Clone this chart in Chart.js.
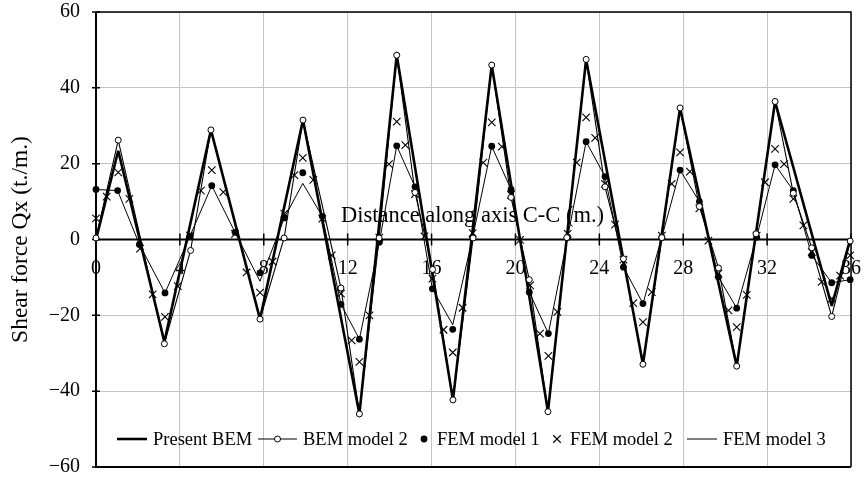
<!DOCTYPE html>
<html>
<head>
<meta charset="utf-8">
<script src="https://cdn.jsdelivr.net/npm/chart.js@4.4.1/dist/chart.umd.min.js"></script>
<style>
  body { margin: 0; background: #fff; }
  canvas { display: block; }
</style>
</head>
<body>
<canvas id="c" width="864" height="479"></canvas>
<script>
    'use strict';

    // tick values of both axes
    const xTickValues = [0, 4, 8, 12, 16, 20, 24, 28, 32, 36]
    const yTickValues = [-60, -40, -20, 0, 20, 40, 60]

    // Present BEM (thick line)
    const presentBemX = [0, 1.06, 3.26, 5.48, 7.82, 9.87, 12.56, 14.34, 17.02, 18.87, 21.55, 23.37, 26.08, 27.85, 30.55, 32.38, 35.08, 35.96]
    const presentBemY = [0, 23.4, -27, 28.9, -21, 31.5, -46, 48.6, -42.3, 46, -45.4, 47.5, -32.9, 34.7, -33.4, 36.4, -17.5, 0]

    // BEM model 2 (line with open circles)
    const bem2X = [0, 1.06, 3.26, 4.51, 5.48, 7.82, 8.97, 9.87, 11.68, 12.56, 13.5, 14.34, 15.21, 16.05, 17.02, 17.98, 18.87, 19.79,
        20.66, 21.55, 22.45, 23.37, 24.27, 25.15, 26.08, 26.98, 27.85, 28.77, 29.68, 30.55, 31.47, 32.38, 33.25, 34.13, 35.08, 35.96]
    const bem2Y = [0.4, 26.2, -27.5, -2.9, 28.9, -21, 0.4, 31.5, -12.8, -46, 0.4, 48.6, 12.4, -7.9, -42.3, 0.4, 46, 11.1,
        -10.6, -45.4, 0.5, 47.5, 13.9, -5.1, -32.9, 0.5, 34.7, 8.7, -7.5, -33.4, 1.5, 36.4, 12.2, -2.2, -20.3, -0.4]

    // FEM model 1 (filled dots) - FEM model 3 uses the same nodes
    const femNodesX = [0, 1.03, 2.07, 3.29, 4.48, 5.52, 6.63, 7.82, 8.98, 9.86, 10.79, 11.68, 12.56, 13.51, 14.34, 15.21, 16.04, 17.01, 17.96,
        18.87, 19.79, 20.66, 21.57, 22.49, 23.37, 24.27, 25.15, 26.08, 26.98, 27.85, 28.77, 29.68, 30.55, 31.5, 32.38, 33.25, 34.13, 35.08, 35.96]
    const fem1Y = [13.2, 12.9, -1.3, -14.1, 0.9, 14.2, 1.9, -8.8, 5.7, 17.6, 6.1, -17.1, -26.3, -0.7, 24.7, 13.9, -13, -23.7, 0.6,
        24.6, 13.2, -13.9, -24.8, 0.6, 25.8, 16.6, -7.3, -16.9, 0.6, 18.3, 10, -9.9, -18.1, 0.6, 19.7, 12.9, -4.2, -11.4, -10.6]
    const fem3Y = [13.2, 12.9, -1.3, -14.1, 0.9, 14.2, 1.9, -11, 5.7, 14.8, 6.1, -17.1, -26.3, -0.7, 24.7, 13.9, -13, -22.5, 0.6,
        24.6, 13.2, -13.9, -24.8, 0.6, 25.8, 16.6, -7.3, -16.9, 0.6, 18.3, 10, -9.9, -18.1, 0.6, 19.7, 12.9, -4.2, -11.4, -10.6]

    // FEM model 2 (crosses)
    const fem2X = [0, 0.51, 1.06, 1.59, 2.1, 2.7, 3.29, 3.9, 4.48, 5.0, 5.52, 6.07, 6.63, 7.18, 7.82, 8.42, 8.98, 9.46, 9.86, 10.36,
        10.79, 11.24, 11.68, 12.19, 12.56, 13.04, 13.51, 13.97, 14.34, 14.75, 15.21, 15.66, 16.04, 16.57, 17.01, 17.48, 17.96, 18.47, 18.87, 19.35,
        19.79, 20.22, 20.7, 21.17, 21.57, 22.0, 22.49, 22.92, 23.37, 23.8, 24.27, 24.75, 25.15, 25.62, 26.08, 26.5, 26.98, 27.45, 27.85, 28.32,
        28.77, 29.2, 29.68, 30.16, 30.55, 31.03, 31.5, 31.9, 32.38, 32.81, 33.25, 33.73, 34.13, 34.6, 35.08, 35.48, 35.96]
    const fem2Y = [5.6, 11.3, 17.7, 10.7, -2.4, -14.5, -20.4, -12.3, 1, 12.9, 18.3, 12.5, 1.5, -8.7, -14, -5.8, 6.8, 17, 21.5, 15.7,
        5.5, -4.2, -14.3, -26.6, -32.3, -20, 0.5, 19.9, 31.1, 24.9, 12, 0.8, -10.3, -23.8, -29.8, -18, 1.7, 20.3, 30.9, 24.5,
        11.8, -0.1, -12.1, -24.8, -30.7, -19.1, 1.5, 20.3, 32.2, 26.8, 14.7, 3.9, -5.3, -16.8, -21.8, -13.9, 1, 14.7, 23, 17.9,
        8.2, -0.3, -9, -18.7, -23.1, -14.6, 1, 15.1, 23.9, 19.9, 10.7, 3.7, -3.3, -11.2, -15.6, -9.5, -4.2]

    const xTitle = 'Distance along axis C-C (m.)'
    const yTitle = 'Shear force Qx (t./m.)'

    const serif = '"Liberation Serif", "Times New Roman", serif'
    const gridGrey = '#c4c4c4'

    function pts(xs, ys) {
        return xs.map((x, i) => ({ x: x, y: ys[i] }))
    }

    let datasets = [
        {
            label: 'Present BEM', data: pts(presentBemX, presentBemY), showLine: true,
            borderColor: '#000', borderWidth: 2.6, borderJoinStyle: 'bevel', pointRadius: 0, order: 3
        },
        {
            label: 'BEM model 2', data: pts(bem2X, bem2Y), showLine: true,
            borderColor: '#000', borderWidth: 1.1, pointStyle: 'circle', pointRadius: 3,
            pointBackgroundColor: '#fff', pointBorderColor: '#000', pointBorderWidth: 1, order: 0
        },
        {
            label: 'FEM model 1', data: pts(femNodesX, fem1Y), showLine: false,
            pointStyle: 'circle', pointRadius: 3.4, pointBackgroundColor: '#000', pointBorderColor: '#000',
            pointBorderWidth: 0, order: 1
        },
        {
            label: 'FEM model 2', data: pts(fem2X, fem2Y), showLine: false,
            pointStyle: 'crossRot', pointRadius: 5.3, pointBorderColor: '#000', pointBorderWidth: 1.1, order: 2
        },
        {
            label: 'FEM model 3', data: pts(femNodesX, fem3Y), showLine: true,
            borderColor: '#000', borderWidth: 1, pointRadius: 0, order: 4
        }
    ]
    datasets.forEach(d => { d.clip = false; d.tension = 0 })

    // frame, zero line with tick marks, x title and legend
    const decor = {
        id: 'decor',
        beforeDatasetsDraw(chart) {
            let { ctx, chartArea: a, scales } = chart
            let x = scales.x, y = scales.y
            let y0 = y.getPixelForValue(0)
            ctx.save()
            ctx.strokeStyle = '#000'
            ctx.lineWidth = 1.5
            ctx.beginPath()
            ctx.moveTo(a.left, a.top); ctx.lineTo(a.right, a.top); ctx.lineTo(a.right, a.bottom)
            ctx.stroke()
            ctx.lineWidth = 2
            ctx.beginPath()
            ctx.moveTo(a.left, a.top); ctx.lineTo(a.left, a.bottom); ctx.lineTo(a.right, a.bottom)
            ctx.moveTo(a.left, y0); ctx.lineTo(a.right, y0)
            ctx.stroke()
            ctx.lineWidth = 1.5
            ctx.beginPath()
            xTickValues.forEach(v => {
                let px = x.getPixelForValue(v)
                ctx.moveTo(px, y0 - 6); ctx.lineTo(px, y0 + 6)
            })
            yTickValues.forEach(v => {
                let py = y.getPixelForValue(v)
                ctx.moveTo(a.left - 4, py); ctx.lineTo(a.left + 4, py)
            })
            ctx.stroke()
            ctx.restore()
        },
        afterDatasetsDraw(chart) {
            let { ctx, chartArea: a } = chart
            ctx.save()
            ctx.fillStyle = '#000'
            ctx.font = '22.5px ' + serif
            ctx.textAlign = 'center'
            ctx.textBaseline = 'alphabetic'
            ctx.fillText(xTitle, (a.left + a.right) / 2 - 1, a.top + 209.5)

            // legend row along the bottom of the plot
            let ly = a.bottom - 28
            let items = [
                { ds: 0, kind: 'line', sx: 117, sw: 30, tx: 153 },
                { ds: 1, kind: 'lineMarker', sx: 258, sw: 39, tx: 303 },
                { ds: 2, kind: 'marker', sx: 424, tx: 437 },
                { ds: 3, kind: 'marker', sx: 557, tx: 570 },
                { ds: 4, kind: 'line', sx: 687, sw: 30, tx: 723 }
            ]
            ctx.font = '18.5px ' + serif
            ctx.textAlign = 'left'
            ctx.textBaseline = 'middle'
            items.forEach(it => {
                let d = chart.data.datasets[it.ds]
                if (it.kind !== 'marker') {
                    ctx.strokeStyle = '#000'
                    ctx.lineWidth = d.borderWidth
                    ctx.beginPath()
                    ctx.moveTo(it.sx, ly); ctx.lineTo(it.sx + it.sw, ly)
                    ctx.stroke()
                }
                if (it.kind !== 'line') {
                    let cx = it.kind === 'marker' ? it.sx : it.sx + it.sw / 2
                    ctx.fillStyle = d.pointBackgroundColor || '#000'
                    ctx.strokeStyle = d.pointBorderColor || '#000'
                    ctx.lineWidth = d.pointBorderWidth
                    Chart.helpers.drawPoint(ctx, {
                        pointStyle: d.pointStyle, radius: d.pointRadius, rotation: 0,
                        borderWidth: d.pointBorderWidth
                    }, cx, ly)
                }
                ctx.fillStyle = '#000'
                ctx.fillText(d.label, it.tx, ly + 1)
            })
            ctx.restore()
        }
    }

    // tick label gaps are done with invisible tick marks (tick padding would also pad the plot box)
    let ctx = document.getElementById('c').getContext('2d')
    let chart = new Chart(ctx, {
        type: 'scatter',
        data: { datasets: datasets },
        options: {
            responsive: false,
            animation: false,
            devicePixelRatio: 1,
            layout: { padding: { left: 0, right: 13, top: 12, bottom: 12 } },
            plugins: { legend: { display: false }, tooltip: { enabled: false } },
            scales: {
                x: {
                    type: 'linear', min: 0, max: 36, position: { y: 0 },
                    afterBuildTicks: s => { s.ticks = xTickValues.map(v => ({ value: v })) },
                    ticks: { color: '#000', font: { family: serif, size: 20 }, padding: 0, maxRotation: 0, autoSkip: false },
                    grid: { color: gridGrey, lineWidth: 1, drawTicks: true, tickLength: 17, tickColor: 'rgba(0,0,0,0)' },
                    border: { display: false }
                },
                y: {
                    min: -60, max: 60,
                    afterBuildTicks: s => { s.ticks = yTickValues.map(v => ({ value: v })) },
                    afterFit: s => { s.width = 96 },
                    ticks: {
                        color: '#000', font: { family: serif, size: 20 }, padding: 0,
                        callback: v => v < 0 ? '\u2212' + (-v) : '' + v
                    },
                    grid: { color: gridGrey, lineWidth: 1, drawTicks: true, tickLength: 16, tickColor: 'rgba(0,0,0,0)' },
                    border: { display: false },
                    title: {
                        display: true, text: yTitle, color: '#000',
                        font: { family: serif, size: 23.5 }, padding: { top: 7, bottom: 0 }
                    }
                }
            }
        },
        plugins: [decor]
    })
</script>
</body>
</html>
